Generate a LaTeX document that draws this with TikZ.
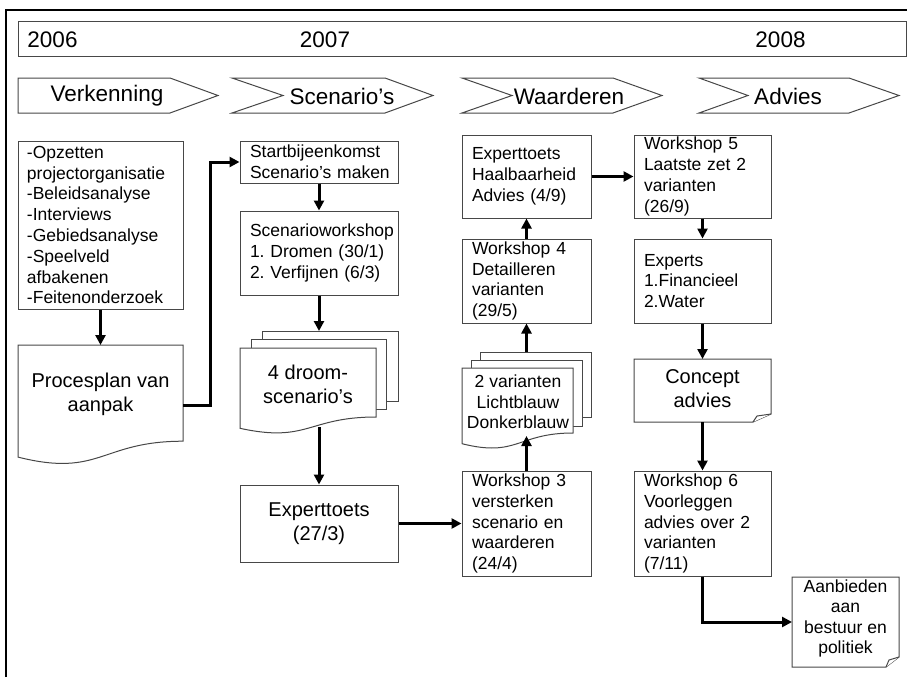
\documentclass[tikz,border=0pt]{standalone}
\usepackage{fontspec}
\setmainfont{Liberation Sans}
\usetikzlibrary{arrows.meta}
\newcommand\fsz[2]{\fontsize{#1}{#2}\selectfont}
\frenchspacing
\begin{document}
\begin{tikzpicture}[x=1pt,y=-1pt,
  shp/.style={draw=black!72, line width=1pt, fill=white},
  box/.style={shp, rectangle, inner sep=0pt, font=\fsz{17.5}{20.8}\frenchspacing, align=left},
  bigtxt/.style={inner sep=0pt, font=\fsz{20}{24}, align=center},
  midtxt/.style={inner sep=0pt, font=\fsz{17.5}{20.5}, align=center},
  hdr/.style={inner sep=0pt, font=\fsz{22.5}{26}},
  arr/.style={line width=3pt, -{Triangle[length=10pt,width=10pt]}},
  frame/.style={line width=2pt}
]
\useasboundingbox (0,0) rectangle (907,677);
% outer frame (top and left)
\draw[frame] (6,677) -- (6,10) -- (907,10);
% year bar
\draw[shp] (18,22) rectangle (906,57);
\node[hdr] (y2006) at (52.5,40) {2006};
\node[hdr] (y2007) at (325,40) {2007};
\node[hdr] (y2008) at (780.5,40) {2008};
% phase chevrons
\draw[shp] (18,78) -- (170,78) -- (218,95.5) -- (170,113) -- (18,113) -- cycle;
\draw[shp] (232,78) -- (385,78) -- (433,95.5) -- (385,113) -- (232,113) -- (283,95.5) -- cycle;
\draw[shp] (462,78) -- (613,78) -- (662,95.5) -- (613,113) -- (462,113) -- (512,95.5) -- cycle;
\draw[shp] (699,78) -- (849,78) -- (899,95.5) -- (849,113) -- (699,113) -- (748,95.5) -- cycle;
\node[hdr] (ph1) at (107,96) {Verkenning};
\node[hdr] (ph2) at (342,96) {Scenario’s};
\node[hdr] (ph3) at (569,96) {Waarderen};
\node[hdr] (ph4) at (788,96) {Advies};

% column 1
\node[box, minimum width=165pt, minimum height=168pt, text width=147pt] (list) at (100.5,225)
 {-Opzetten\\projectorganisatie\\-Beleidsanalyse\\-Interviews\\-Gebiedsanalyse\\-Speelveld\\afbakenen\\-Feitenonderzoek};
\draw[shp] (18,345) -- (183,345) -- (183,441.2) .. controls (100.5,441.2) and (100.5,477.8) .. (18,457.1) -- cycle;
\node[bigtxt] (pp) at (100.5,394) {Procesplan van\\aanpak};
\coordinate (ppR) at (183,405);
\coordinate (ppT) at (100.5,345);

% column 2
\node[box, minimum width=158pt, minimum height=42pt, text width=138pt] (start) at (319,162)
 {Startbijeenkomst\\Scenario’s~maken};
\node[box, minimum width=158pt, minimum height=84pt, text width=138pt] (sw) at (319,253)
 {Scenarioworkshop\\1. Dromen (30/1)\\2. Verfijnen (6/3)};
\draw[shp] (262,331) rectangle (398,401);
\draw[shp] (251,339) rectangle (386,409);
\draw[shp] (240,348) -- (376,348) -- (376,417) .. controls (308,417) and (308,443.2) .. (240,428.3) -- cycle;
\node[bigtxt] (droom) at (308,384.5) {4 droom-\\scenario’s};
\coordinate (droomT) at (319,331);
\coordinate (droomB) at (319,427);
\node[box, minimum width=158pt, minimum height=77pt, text width=138pt, align=center, font=\fsz{20}{24}] (et) at (319,523.5)
 {Experttoets\\(27/3)};

% column 3
\node[box, minimum width=129pt, minimum height=105pt, text width=109pt] (w3) at (526.5,523.5)
 {Workshop 3\\versterken\\scenario en\\waarderen\\(24/4)};
\draw[shp] (480,352) rectangle (591,417);
\draw[shp] (471,360) rectangle (582,426);
\draw[shp] (462,368) -- (573,368) -- (573,433) .. controls (517.5,433) and (517.5,457.7) .. (462,443.7) -- cycle;
\node[midtxt] (var) at (518,402) {2 varianten\\Lichtblauw\\Donkerblauw};
\coordinate (varT) at (526.5,352);
\coordinate (varB) at (526.5,436);
\node[box, minimum width=129pt, minimum height=84pt, text width=109pt] (w4) at (526.5,281)
 {Workshop 4\\Detailleren\\varianten\\(29/5)};
\node[box, minimum width=129pt, minimum height=83pt, text width=109pt] (eh) at (526.5,176.5)
 {Experttoets\\Haalbaarheid\\Advies (4/9)};

% column 4
\node[box, minimum width=137pt, minimum height=83pt, text width=117pt] (w5) at (702.5,176.5)
 {Workshop 5\\Laatste zet 2\\varianten\\(26/9)};
\node[box, minimum width=137pt, minimum height=84pt, text width=117pt] (ex) at (702.5,281)
 {Experts\\1.Financieel\\2.Water};
\draw[shp] (634,359) -- (771,359) -- (771,414) -- (753,422) -- (634,422) -- cycle;
\draw[shp] (753,422) -- (757,416) -- (771,414);
\node[bigtxt] (ca) at (702.5,388.5) {Concept\\advies};
\coordinate (caT) at (702.5,359);
\coordinate (caB) at (702.5,422);
\node[box, minimum width=137pt, minimum height=105pt, text width=117pt] (w6) at (702.5,523.5)
 {Workshop 6\\Voorleggen\\advies over 2\\varianten\\(7/11)};
\draw[shp] (792,577) -- (899,577) -- (899,657) -- (886,667) -- (792,667) -- cycle;
\draw[shp] (886,667) -- (889,660) -- (899,657);
\node[midtxt] (aan) at (845.5,618.5) {Aanbieden\\aan\\bestuur en\\politiek};
\coordinate (aanL) at (792,622);

% connectors
\draw[arr] (list.south) -- (ppT);
\draw[arr] (ppR) -- ++(27,0) |- (start.west);
\draw[arr] (start.south) -- (sw.north);
\draw[arr] (sw.south) -- (droomT);
\draw[arr] (droomB) -- (et.north);
\draw[arr] (et.east) -- (w3.west);
\draw[arr] (w3.north) -- (varB);
\draw[arr] (varT) -- (w4.south);
\draw[arr] (w4.north) -- (eh.south);
\draw[arr] (eh.east) -- (w5.west);
\draw[arr] (w5.south) -- (ex.north);
\draw[arr] (ex.south) -- (caT);
\draw[arr] (caB) -- (w6.north);
\draw[arr] (w6.south) |- (aanL);
\end{tikzpicture}
\end{document}
